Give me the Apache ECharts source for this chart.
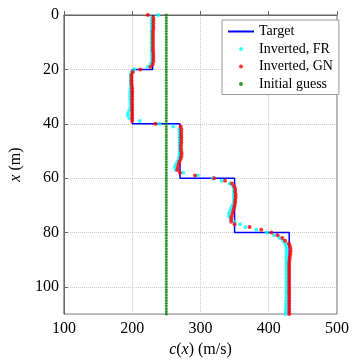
<!DOCTYPE html>
<html>
<head>
<meta charset="utf-8">
<script src="https://cdn.jsdelivr.net/npm/echarts@6/dist/echarts.min.js"></script>
<style>
  html, body { margin: 0; padding: 0; background: #fff; }
  #chart { width: 352px; height: 363px; }
</style>
</head>
<body>
<div id="chart"></div>
<script>
// 目标剖面（阶梯）
const targetC = [230, 230, 200, 200, 270, 270, 350, 350, 430, 430];
const targetDepth = [0, 20, 20, 40, 40, 60, 60, 80, 80, 110];

// 反演网格深度 (m)
const depths = [
  0, 1, 2, 3, 4, 5, 6, 7, 8, 9,
  10, 11, 12, 13, 14, 15, 16, 17, 18, 19,
  20, 21, 22, 23, 24, 25, 26, 27, 28, 29,
  30, 31, 32, 33, 34, 35, 36, 37, 38, 39,
  40, 41, 42, 43, 44, 45, 46, 47, 48, 49,
  50, 51, 52, 53, 54, 55, 56, 57, 58, 59,
  60, 61, 62, 63, 64, 65, 66, 67, 68, 69,
  70, 71, 72, 73, 74, 75, 76, 77, 78, 79,
  80, 81, 82, 83, 84, 85, 86, 87, 88, 89,
  90, 91, 92, 93, 94, 95, 96, 97, 98, 99,
  100, 101, 102, 103, 104, 105, 106, 107, 108, 109, 110
];

// Inverted, FR
const frC = [
  238, 229, 229, 228.5, 228.5, 228.5, 228.5, 228.5, 228.5, 228.5,
  228.5, 228.5, 228.5, 228.5, 228.5, 229, 229, 229, 227, 223,
  203, 199, 198, 198, 198, 198, 198, 197.5, 197.5, 197,
  197, 197, 197.5, 197.5, 197.5, 196, 194, 193.5, 196, 211,
  240, 260, 269, 269.5, 269.5, 269.5, 269.5, 269.5, 269.5, 269.5,
  269.5, 269.5, 269, 268, 266, 264, 262.5, 264, 275, 296,
  318, 331, 343, 348, 349, 349, 349, 349, 349, 349,
  347, 345, 343.5, 341.5, 342, 344, 350, 358, 366, 382,
  397, 408, 416, 421, 424, 425.5, 426, 426, 426, 426,
  426, 426, 426, 426, 426, 426, 426, 426, 426, 426,
  426, 426, 426, 426, 426, 425.5, 425.5, 425.5, 425, 425, 425
];

// Inverted, GN
const gnC = [
  223, 231, 231, 231, 231, 231, 230.5, 230.5, 230.5, 230.5,
  230.5, 230.5, 230.5, 230.5, 231, 231, 231, 231, 230, 227,
  212, 201, 199, 199, 199, 199, 199.5, 200, 200, 200,
  200, 200, 200, 200, 200, 200, 200, 200, 200, 200,
  234, 271, 272, 272, 272, 272, 272, 272, 271.5, 271.5,
  272, 272.5, 272, 271, 269, 268, 267, 266, 270, 292,
  320, 336, 346, 349.5, 351, 351, 351.5, 351.5, 351, 351,
  350, 349, 348, 347, 345.5, 345, 345, 350, 372, 389,
  404, 413, 420, 424, 429.5, 431, 432, 432, 431.5, 431,
  430.5, 430, 430, 430, 430, 430, 430, 430, 430, 430,
  430, 430, 430, 430, 430, 430, 430, 430, 430, 430, 430
];

// Initial guess
const guessC = [
  250, 250, 250, 250, 250, 250, 250, 250, 250, 250,
  250, 250, 250, 250, 250, 250, 250, 250, 250, 250,
  250, 250, 250, 250, 250, 250, 250, 250, 250, 250,
  250, 250, 250, 250, 250, 250, 250, 250, 250, 250,
  250, 250, 250, 250, 250, 250, 250, 250, 250, 250,
  250, 250, 250, 250, 250, 250, 250, 250, 250, 250,
  250, 250, 250, 250, 250, 250, 250, 250, 250, 250,
  250, 250, 250, 250, 250, 250, 250, 250, 250, 250,
  250, 250, 250, 250, 250, 250, 250, 250, 250, 250,
  250, 250, 250, 250, 250, 250, 250, 250, 250, 250,
  250, 250, 250, 250, 250, 250, 250, 250, 250, 250, 250
];

const cTicks = [100, 200, 300, 400, 500];
const depthTicks = [0, 20, 40, 60, 80, 100];
const legendNames = ["Target", "Inverted, FR", "Inverted, GN", "Initial guess"];

const chart = echarts.init(document.getElementById('chart'));
const fontFamily = "Liberation Serif";
const axisColor = "#666";

function pairs(cs, ds) {
  return cs.map(function (c, i) { return [c, ds[i]]; });
}

const option = {
  animation: false,
  grid: {
    left: 57,
    right: 13,
    top: 15,
    bottom: 39,
    show: true,
    borderColor: axisColor,
    borderWidth: 1,
    backgroundColor: "#fff"
  },
  legend: {
    orient: "vertical",
    left: 222,
    top: 20,
    padding: [4, 6, 3, 5],
    itemGap: 2.5,
    itemWidth: 26,
    itemHeight: 4,
    borderColor: "#999",
    borderWidth: 1,
    backgroundColor: "#fff",
    textStyle: {
      fontFamily: fontFamily,
      fontSize: 14,
      lineHeight: 15,
      color: "#000"
    },
    data: [
      { name: legendNames[0], itemStyle: { opacity: 0 } },
      { name: legendNames[1], icon: "circle" },
      { name: legendNames[2], icon: "circle" },
      { name: legendNames[3], icon: "circle" }
    ]
  },
  xAxis: {
    type: "value",
    min: cTicks[0],
    max: cTicks[cTicks.length - 1],
    interval: 100,
    name: "{i|c}({i|x}) (m/s)",
    nameLocation: "middle",
    nameGap: 23,
    nameTextStyle: {
      fontFamily: fontFamily,
      fontSize: 16,
      color: "#000",
      rich: {
        i: { fontFamily: fontFamily, fontSize: 16, fontStyle: "italic", color: "#000" }
      }
    },
    axisLine: { show: true, lineStyle: { color: axisColor } },
    axisTick: { show: true, inside: true, length: 4, lineStyle: { color: axisColor } },
    axisLabel: { fontFamily: fontFamily, fontSize: 16, color: "#000", margin: 7 },
    splitLine: { show: true, lineStyle: { color: "#c8c8c8", type: "dotted", width: 1 } }
  },
  yAxis: {
    type: "value",
    inverse: true,
    min: 0,
    max: 110,
    interval: 20,
    name: "{i|x} (m)",
    nameLocation: "middle",
    nameGap: 34,
    nameTextStyle: {
      fontFamily: fontFamily,
      fontSize: 16,
      color: "#000",
      rich: {
        i: { fontFamily: fontFamily, fontSize: 16, fontStyle: "italic", color: "#000" }
      }
    },
    axisLine: { show: true, lineStyle: { color: axisColor } },
    axisTick: { show: true, inside: true, length: 4, lineStyle: { color: axisColor } },
    axisLabel: {
      fontFamily: fontFamily, fontSize: 16, color: "#000", margin: 5,
      showMaxLabel: false
    },
    splitLine: { show: true, lineStyle: { color: "#c8c8c8", type: "dotted", width: 1 } }
  },
  series: [
    {
      name: legendNames[0],
      type: "line",
      symbol: "none",
      lineStyle: { color: "#0000ff", width: 1.5 },
      itemStyle: { color: "#0000ff" },
      data: pairs(targetC, targetDepth),
      z: 2
    },
    {
      name: legendNames[1],
      type: "scatter",
      symbol: "circle",
      symbolSize: 4,
      itemStyle: { color: "#00ffff" },
      data: pairs(frC, depths),
      z: 3
    },
    {
      name: legendNames[2],
      type: "scatter",
      symbol: "circle",
      symbolSize: 4,
      itemStyle: { color: "#ff0000" },
      data: pairs(gnC, depths),
      z: 4
    },
    {
      name: legendNames[3],
      type: "scatter",
      symbol: "circle",
      symbolSize: 3,
      itemStyle: { color: "#008000" },
      data: pairs(guessC, depths),
      z: 5
    }
  ]
};

chart.setOption(option);
</script>
</body>
</html>
